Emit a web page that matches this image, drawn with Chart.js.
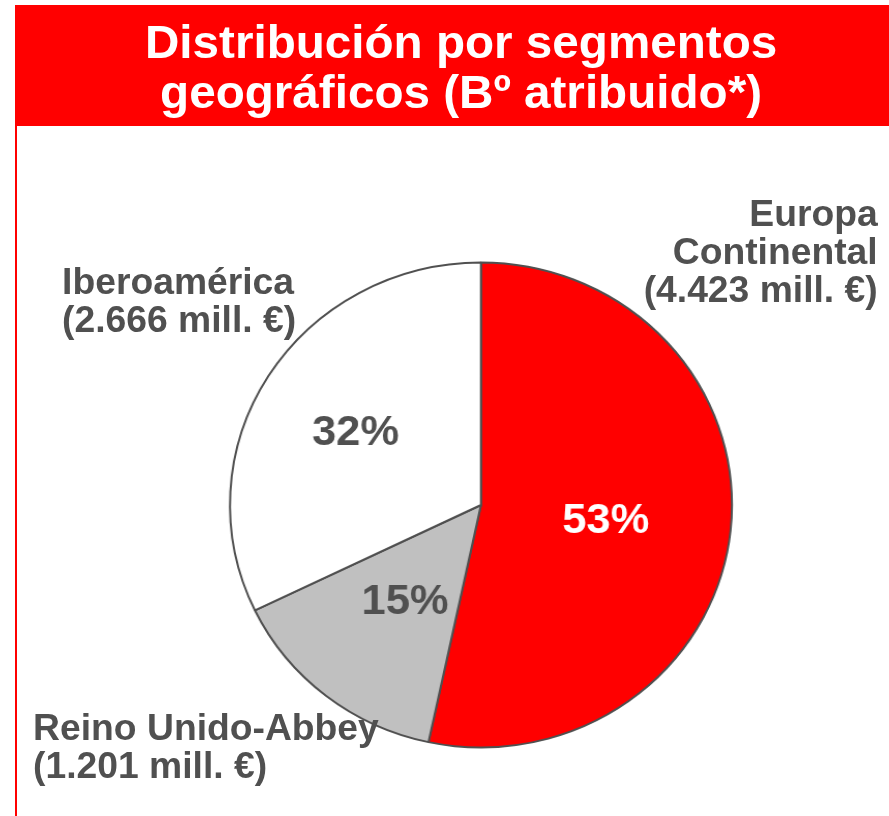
<!DOCTYPE html>
<html>
<head>
<meta charset="utf-8">
<script src="https://cdn.jsdelivr.net/npm/chart.js@4"></script>
<style>
  html, body { margin: 0; padding: 0; background: #fff; overflow: hidden; }
  body { width: 889px; height: 816px; position: relative; font-family: "Liberation Sans", Arial, sans-serif; }
  .frame { position: absolute; left: 15px; top: 5px; width: 2px; height: 900px; background: #ff0000; }
  .header { position: absolute; left: 15px; top: 5px; width: 900px; height: 121px; background: #ff0000; }
  /* whole slide looks stretched sideways a little, so text + pie live in a scaled box */
  .stretch { position: absolute; left: 0; top: 0; width: 859px; height: 816px; transform: scaleX(1.035); transform-origin: 0 0; }
  .title { position: absolute; left: 0; top: 17px; width: 891px; text-align: center; color: #fff;
           font-weight: bold; font-size: 46px; line-height: 50px; }
  .lbl { position: absolute; color: #505050; font-weight: bold; font-size: 36px; line-height: 38px; white-space: nowrap; }
  canvas { position: absolute; left: 0; top: 0; }
</style>
</head>
<body>
<div class="header"></div>
<div class="frame"></div>
<div class="stretch">
  <div class="title">Distribución por segmentos<br>geográficos (Bº atribuido*)</div>
  <canvas id="pie" width="859" height="816"></canvas>
  <div id="labels"></div>
</div>
<script>
// data
const categories = ['Europa Continental', 'Reino Unido-Abbey', 'Iberoamérica'];
const nameLines = [['Europa', 'Continental'], ['Reino Unido-Abbey'], ['Iberoamérica']];
const values = [4423, 1201, 2666];          // mill. €
const percentLabels = ['53%', '15%', '32%'];
const sliceColors = ['#ff0000', '#c0c0c0', '#ffffff'];

function fmtMill(v) {
    // spanish thousands separator, e.g. 4.423
    const s = String(v);
    return '(' + s.replace(/\B(?=(\d{3})+(?!\d))/g, '.') + ' mill. €)';
}

// outside labels (page text), positioned by hand like the slide
const labelPos = [
    { right: 11, top: 195, align: 'right' },
    { left: 32, top: 709, align: 'left' },
    { left: 60, top: 263, align: 'left' }
];
const holder = document.getElementById('labels');
categories.forEach((c, i) => {
    const d = document.createElement('div');
    d.className = 'lbl';
    const p = labelPos[i];
    if (p.right !== undefined) d.style.right = p.right + 'px';
    else d.style.left = p.left + 'px';
    d.style.top = p.top + 'px';
    d.style.textAlign = p.align;
    d.innerHTML = nameLines[i].concat([fmtMill(values[i])]).join('<br>');
    holder.appendChild(d);
});

// percentages inside the slices
const pctPlugin = {
    id: 'pctLabels',
    afterDatasetsDraw(chart, args, opts) {
        const ctx = chart.ctx;
        const meta = chart.getDatasetMeta(0);
        ctx.save();
        ctx.font = 'bold 42px "Liberation Sans", Arial, sans-serif';
        ctx.textAlign = 'center';
        ctx.textBaseline = 'middle';
        meta.data.forEach((arc, i) => {
            const p = arc.getProps(['x', 'y', 'startAngle', 'endAngle', 'outerRadius'], true);
            const mid = (p.startAngle + p.endAngle) / 2;
            const r = p.outerRadius * opts.radius[i];
            ctx.fillStyle = opts.colors[i];
            ctx.fillText(percentLabels[i], p.x + Math.cos(mid) * r, p.y + Math.sin(mid) * r + 4);
        });
        ctx.restore();
    }
};

new Chart(document.getElementById('pie'), {
    type: 'pie',
    data: {
        labels: categories,
        datasets: [{
            data: values,
            backgroundColor: sliceColors,
            borderColor: '#505050',
            borderWidth: 2
        }]
    },
    options: {
        responsive: false,
        animation: false,
        radius: 242.5,
        layout: { padding: { left: 214.7, right: 144.3, top: 255, bottom: 61 } },
        plugins: {
            legend: { display: false },
            tooltip: { enabled: false },
            title: { display: false },
            pctLabels: {
                radius: [0.5, 0.49, 0.59],
                colors: ['#ffffff', '#505050', '#505050']
            }
        }
    },
    plugins: [pctPlugin]
});
</script>
</body>
</html>
